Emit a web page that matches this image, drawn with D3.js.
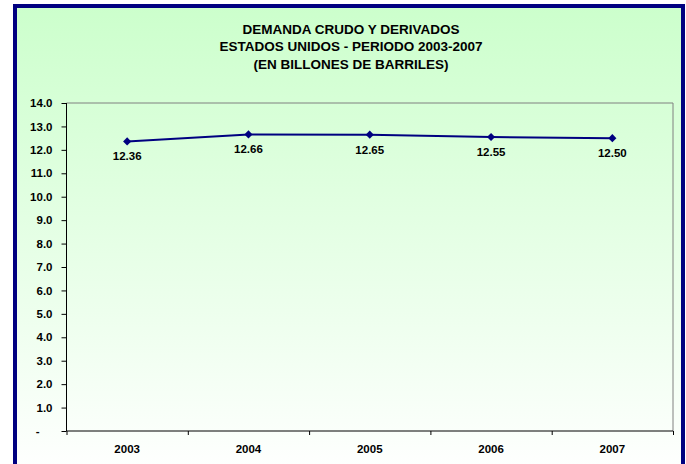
<!DOCTYPE html>
<html>
<head>
<meta charset="utf-8">
<script src="https://cdn.jsdelivr.net/npm/d3@7"></script>
<style>
  body { margin: 0; background: #ffffff; }
  svg { display: block; font-family: "Liberation Sans", Arial, sans-serif; }
</style>
</head>
<body>
<svg id="chart"></svg>
<script>
const years = ["2003", "2004", "2005", "2006", "2007"];
const demand = [12.36, 12.66, 12.65, 12.55, 12.50];
const yTicks = [0, 1, 2, 3, 4, 5, 6, 7, 8, 9, 10, 11, 12, 13, 14];
const titleLines = [
  "DEMANDA CRUDO Y DERIVADOS",
  "ESTADOS UNIDOS - PERIODO 2003-2007",
  "(EN BILLONES DE BARRILES)"
];

const w = 686;
const h = 464;
const plot = { left: 66.5, right: 673, top: 103, bottom: 431 };

const svg = d3.select("#chart").attr("width", w).attr("height", h);

const defs = svg.append("defs");
const grad = defs.append("linearGradient")
  .attr("id", "bg")
  .attr("x1", 0).attr("y1", 0).attr("x2", 0).attr("y2", 1);
grad.append("stop").attr("offset", "0%").attr("stop-color", "#ccffcc");
grad.append("stop").attr("offset", "100%").attr("stop-color", "#ffffff");

// chart frame
svg.append("rect")
  .attr("x", 15).attr("y", 6)
  .attr("width", 668).attr("height", 470)
  .attr("fill", "url(#bg)")
  .attr("stroke", "#000080")
  .attr("stroke-width", 4);

// title
svg.append("g")
  .selectAll("text")
  .data(titleLines)
  .join("text")
  .attr("x", 351)
  .attr("y", (d, i) => 33.5 + i * 17.5)
  .attr("text-anchor", "middle")
  .attr("font-size", "13.5px")
  .attr("font-weight", "bold")
  .attr("fill", "#000")
  .text(d => d);

const xscale = d3.scaleBand()
  .domain(years)
  .range([plot.left, plot.right]);
const xEdges = d3.scaleLinear()
  .domain([0, years.length])
  .range([plot.left, plot.right]);
const yscale = d3.scaleLinear()
  .domain([0, 14])
  .range([plot.bottom, plot.top]);

// plot area border (top/right grey)
svg.append("path")
  .attr("d", `M${plot.left},${plot.top}H${plot.right}V${plot.bottom}`)
  .attr("fill", "none")
  .attr("stroke", "#808080")
  .attr("stroke-width", 1);

// y axis
const yAxis = d3.axisLeft(yscale)
  .tickValues(yTicks)
  .tickSize(5)
  .tickPadding(9)
  .tickFormat(d => d === 0 ? "-" : d.toFixed(1));
const gy = svg.append("g")
  .attr("transform", `translate(${plot.left},0)`)
  .call(yAxis);
gy.select(".domain").attr("stroke", "#000").attr("d", `M0,${plot.top}V${plot.bottom}`);
gy.selectAll(".tick line").attr("stroke", "#000");
gy.selectAll(".tick text")
  .attr("font-size", "11.5px")
  .attr("font-weight", "bold")
  .attr("font-family", "'Liberation Sans', Arial, sans-serif")
  .attr("fill", "#000")
  .attr("x", d => d === 0 ? -27 : -14);

// x axis: ticks at band edges
const xAxis = d3.axisBottom(xEdges)
  .tickValues(d3.range(years.length + 1))
  .tickSize(4)
  .tickFormat("");
const gx = svg.append("g")
  .attr("transform", `translate(0,${plot.bottom})`)
  .call(xAxis);
gx.select(".domain").attr("stroke", "#000").attr("d", `M${plot.left},0H${plot.right}`);
gx.selectAll(".tick line").attr("stroke", "#000");

// x labels
svg.append("g")
  .selectAll("text")
  .data(years)
  .join("text")
  .attr("x", d => xscale(d) + xscale.bandwidth() / 2)
  .attr("y", 453)
  .attr("text-anchor", "middle")
  .attr("font-size", "11.5px")
  .attr("font-weight", "bold")
  .attr("fill", "#000")
  .text(d => d);

// line
const line = d3.line()
  .x((d, i) => xscale(years[i]) + xscale.bandwidth() / 2)
  .y(d => yscale(d));
svg.append("path")
  .datum(demand)
  .attr("d", line)
  .attr("fill", "none")
  .attr("stroke", "#000080")
  .attr("stroke-width", 2);

// markers
svg.append("g")
  .attr("fill", "#000080")
  .selectAll("path")
  .data(demand)
  .join("path")
  .attr("d", d3.symbol(d3.symbolDiamond2, 42))
  .attr("transform", (d, i) => `translate(${xscale(years[i]) + xscale.bandwidth() / 2},${yscale(d)})`);

// data labels
svg.append("g")
  .selectAll("text")
  .data(demand)
  .join("text")
  .attr("x", (d, i) => xscale(years[i]) + xscale.bandwidth() / 2)
  .attr("y", d => yscale(d) + 19)
  .attr("text-anchor", "middle")
  .attr("font-size", "11.5px")
  .attr("font-weight", "bold")
  .attr("fill", "#000")
  .text(d => d.toFixed(2));
</script>
</body>
</html>
